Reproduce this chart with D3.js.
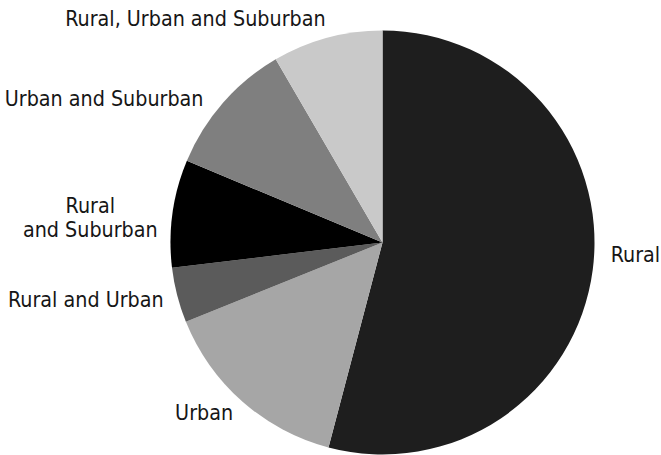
<!DOCTYPE html>
<html>
<head>
<meta charset="utf-8">
<script src="https://cdn.jsdelivr.net/npm/d3@7"></script>
<style>
  html, body { margin: 0; padding: 0; background: #fff; }
  svg text { font-family: 'DejaVu Sans Condensed', 'DejaVu Sans', sans-serif; font-stretch: condensed; font-size: 21.3px; fill: #161616; }
</style>
</head>
<body>
<svg id="chart" width="661" height="455"></svg>
<script>
// Data
const categories = ["Rural", "Urban", "Rural and Urban", "Rural and Suburban", "Urban and Suburban", "Rural, Urban and Suburban"];
const values = [54.1, 14.8, 4.2, 8.2, 10.3, 8.4];
const labelLines = [["Rural"], ["Urban"], ["Rural and Urban"], ["Rural", "and Suburban"], ["Urban and Suburban"], ["Rural, Urban and Suburban"]];
const colors = ["#1e1e1e", "#a6a6a6", "#5b5b5b", "#000000", "#7f7f7f", "#c9c9c9"];

// Layout
const W = 661, H = 455;
const cx = 382.5, cy = 242.5, R = 212;
const labelR = R + 14;
const nudge = [[4, -17], [0, 0], [0, 1], [-1, 6], [-9, 5], [2, -6]];

const svg = d3.select("#chart");
const g = svg.append("g").attr("transform", `translate(${cx},${cy})`);

const data = categories.map((c, i) => ({ name: c, value: values[i], lines: labelLines[i], color: colors[i], i }));
const pie = d3.pie().sort(null).value(d => d.value);
const arcs = pie(data);
const arc = d3.arc().innerRadius(0).outerRadius(R);

g.selectAll("path.slice").data(arcs).join("path")
  .attr("class", "slice")
  .attr("d", arc)
  .attr("fill", d => d.data.color);

const lineH = 23.5;
arcs.forEach(a => {
  const mid = (a.startAngle + a.endAngle) / 2;
  const dx = Math.sin(mid), dy = -Math.cos(mid);
  const px = labelR * dx, py = labelR * dy;
  const t = g.append("text").attr("text-anchor", "middle");
  const n = a.data.lines.length;
  a.data.lines.forEach((ln, k) => {
    t.append("tspan").attr("x", 0).attr("y", (k - (n - 1) / 2) * lineH).attr("dy", "0.36em").text(ln);
  });
  const bb = t.node().getBBox();
  const w = bb.width;
  const nd = nudge[a.data.i];
  const x = dx >= 0 ? px + w / 2 : px - w / 2;
  t.attr("transform", `translate(${x + nd[0]},${py + nd[1]})`);
});
</script>
</body>
</html>
